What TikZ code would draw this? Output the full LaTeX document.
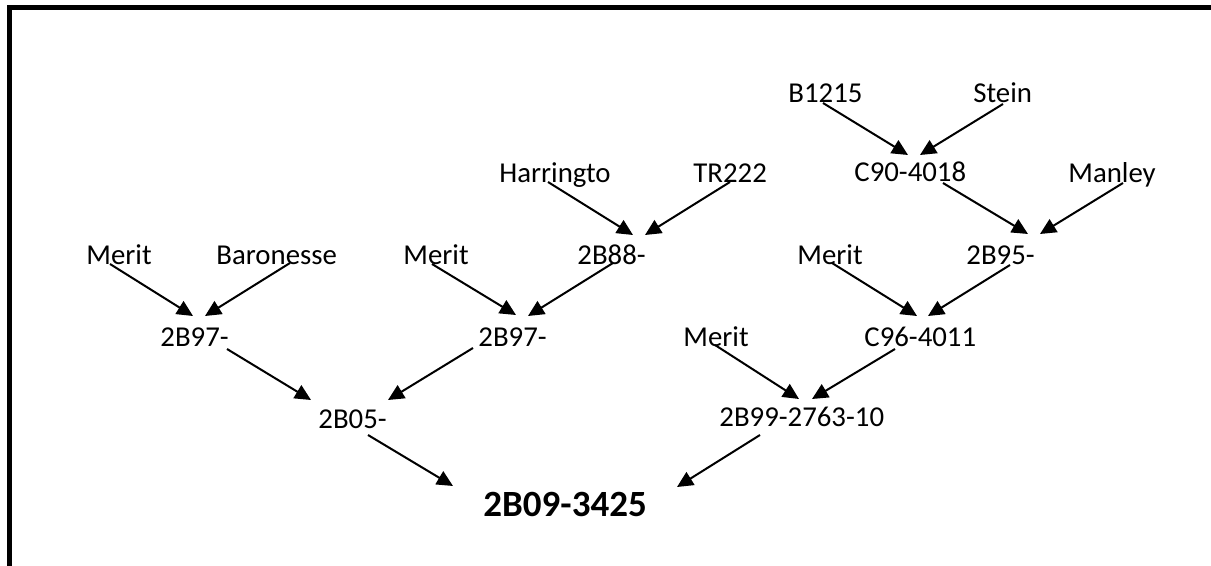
\documentclass[tikz,border=0pt]{standalone}
\usepackage{fontspec}
\setmainfont{Carlito}
\usetikzlibrary{arrows.meta,calc}
\begin{document}
\begin{tikzpicture}[x=0.5pt,y=-0.5pt,
  lbl/.style={anchor=base west,inner sep=0pt,font=\fontsize{14.4}{17}\selectfont},
  rootlbl/.style={anchor=base west,inner sep=0pt,font=\fontsize{18.5}{22}\selectfont\bfseries},
  arr/.style={line width=1pt,-{Triangle[length=8pt,width=7.5pt]}}]
\useasboundingbox (0,0) rectangle (1211,566);
% frame
\draw[line width=2.5pt] (9,566) -- (9,7.5) -- (1211,7.5);
% labels
\node[lbl] (b1215) at (788,103) {B1215};
\node[lbl] (stein) at (973,103) {Stein};
\node[lbl] (harr) at (499,183) {Harringto};
\node[lbl] (tr222) at (693,183) {TR222};
\node[lbl] (c90) at (854,182) {C90-4018};
\node[lbl] (manley) at (1068,183) {Manley};
\node[lbl] (meritA) at (86,265) {Merit};
\node[lbl] (baron) at (216,265) {Baronesse};
\node[lbl] (meritB) at (403,265) {Merit};
\node[lbl] (b88) at (577,265) {2B88-};
\node[lbl] (meritC) at (797,265) {Merit};
\node[lbl] (b95) at (966,265) {2B95-};
\node[lbl] (b97a) at (160,347) {2B97-};
\node[lbl] (b97b) at (478,347) {2B97-};
\node[lbl] (meritD) at (683,347) {Merit};
\node[lbl] (c96) at (864,347) {C96-4011};
\node[lbl] (b05) at (318,429) {2B05-};
\node[lbl] (b99) at (719,427) {2B99-2763-10};
\node[rootlbl] (top) at (483,517) {2B09-3425};
% parent -> child arrows
\draw[arr] ($(meritA.base west)+(24,-1)$) -- ($(b97a.base west)+(33,-31)$);
\draw[arr] ($(baron.base west)+(74,-2)$) -- ($(b97a.base west)+(45,-31)$);
\draw[arr] ($(meritB.base west)+(29,-1)$) -- ($(b97b.base west)+(38,-32)$);
\draw[arr] ($(b88.base west)+(36,-2)$) -- ($(b97b.base west)+(50,-31)$);
\draw[arr] ($(harr.base west)+(49,-1)$) -- ($(b88.base west)+(56,-30)$);
\draw[arr] ($(tr222.base west)+(37,-1)$) -- ($(b88.base west)+(68,-30)$);
\draw[arr] ($(b1215.base west)+(35,0)$) -- ($(c90.base west)+(54,-27)$);
\draw[arr] ($(stein.base west)+(30,1)$) -- ($(c90.base west)+(66,-27)$);
\draw[arr] ($(c90.base west)+(89,1)$) -- ($(b95.base west)+(62,-31)$);
\draw[arr] ($(manley.base west)+(55,0)$) -- ($(b95.base west)+(74,-31)$);
\draw[arr] ($(meritC.base west)+(35,-2)$) -- ($(c96.base west)+(53,-31)$);
\draw[arr] ($(b95.base west)+(44,0)$) -- ($(c96.base west)+(64,-31)$);
\draw[arr] ($(meritD.base west)+(32,-2)$) -- ($(b99.base west)+(80,-28)$);
\draw[arr] ($(c96.base west)+(31,2)$) -- ($(b99.base west)+(93,-28)$);
\draw[arr] ($(b97a.base west)+(67,2)$) -- ($(b05.base west)+(-7,-29)$);
\draw[arr] ($(b97b.base west)+(-5,1)$) -- ($(b05.base west)+(70,-29)$);
\draw[arr] ($(b05.base west)+(50,6)$) -- ($(top.base west)+(-30,-31)$);
\draw[arr] ($(b99.base west)+(41,8)$) -- ($(top.base west)+(194,-30)$);
\end{tikzpicture}
\end{document}
